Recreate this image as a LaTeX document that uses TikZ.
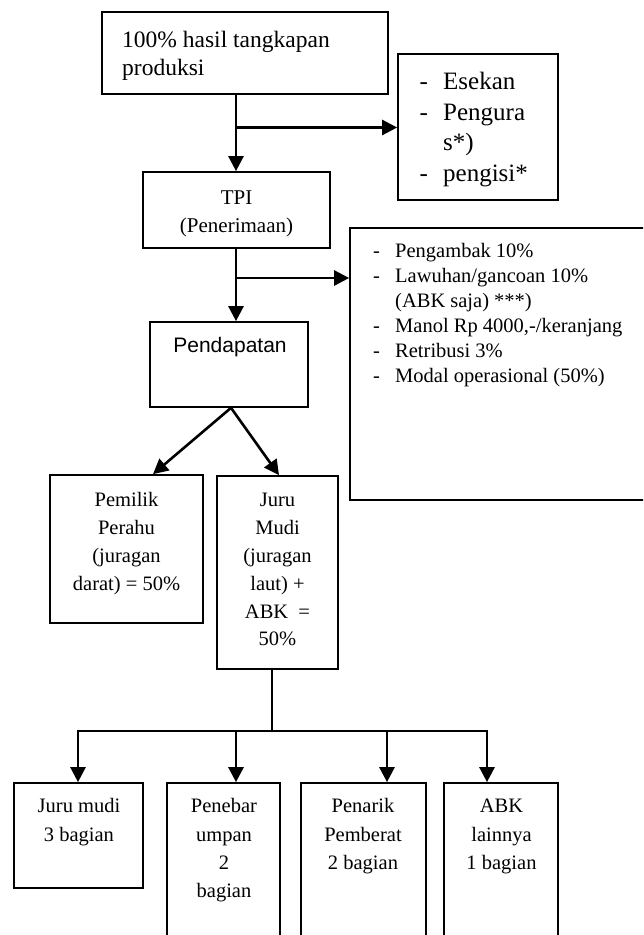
\documentclass[tikz,border=0pt]{standalone}
\usepackage{fontspec}
\setmainfont{Liberation Serif}
\newfontfamily\sansf{Liberation Sans}
\usetikzlibrary{arrows.meta}
\newcommand{\myfs}[2]{\fontsize{#1}{#2}\selectfont}
\tikzset{
  box/.style={draw, line width=1.7pt, inner sep=0pt},
  conn/.style={line width=2.6pt},
  arr/.style={conn, -{Triangle[length=15pt,width=15pt]}},
  txt/.style={inner sep=0pt, anchor=north, align=center},
  ltxt/.style={inner sep=0pt, anchor=north west, align=left}
}
\begin{document}
\begin{tikzpicture}[x=1pt,y=-1pt]
\useasboundingbox (0,0) rectangle (643,935);
\clip (0,0) rectangle (643,935);
% boxes
\node[box, minimum width=286pt, minimum height=82pt] (top) at (245,53) {};
\node[box, minimum width=160pt, minimum height=146pt] (esekan) at (478,127) {};
\node[box, minimum width=187pt, minimum height=76pt] (tpi) at (236.5,210) {};
\node[box, minimum width=300pt, minimum height=272pt] (potong) at (500,364) {};
\node[box, minimum width=158pt, minimum height=85pt] (pend) at (229,364.5) {};
\node[box, minimum width=153pt, minimum height=148pt] (pemilik) at (126.5,549) {};
\node[box, minimum width=121pt, minimum height=193pt] (jm) at (277.5,572.5) {};
\node[box, minimum width=129pt, minimum height=105pt] (b1) at (78.5,835.5) {};
\node[box, minimum width=113pt, minimum height=167pt] (b2) at (223.5,866.5) {};
\node[box, minimum width=125pt, minimum height=167pt] (b3) at (363.5,866.5) {};
\node[box, minimum width=114pt, minimum height=167pt] (b4) at (501,866.5) {};
% texts
\node[ltxt, font=\myfs{23.5}{28}] (toptxt) at (122,27.4) {\strut 100\% hasil tangkapan\\produksi};
\node[ltxt, font=\myfs{25}{30.5}] (esekantxt) at (419.5,68.2) {\strut\makebox[23.5pt][l]{-}Esekan\\
  \makebox[23.5pt][l]{-}Pengura\\ \hspace*{23.5pt}s*)\\ \makebox[23.5pt][l]{-}pengisi*};
\node[txt, font=\myfs{21}{28}] (tpitxt) at (236.5,184.4) {\strut TPI\\(Penerimaan)};
\node[ltxt, font=\myfs{20.5}{25}] (potongtxt) at (373,240.2) {\strut\makebox[22pt][l]{-}Pengambak 10\%\\
  \makebox[22pt][l]{-}Lawuhan/gancoan 10\%\\
  \hspace*{22pt}(ABK saja) ***)\\
  \makebox[22pt][l]{-}Manol Rp 4000,-/keranjang\\
  \makebox[22pt][l]{-}Retribusi 3\%\\
  \makebox[22pt][l]{-}Modal operasional (50\%)};
\node[inner sep=0pt, anchor=base, font=\sansf\myfs{21}{25}] (pendtxt) at (230,352.7) {Pendapatan};
\node[txt, font=\myfs{20.5}{27.8}] (pemiliktxt) at (126.5,487.2) {\strut Pemilik\\Perahu\\(juragan\\darat) = 50\%};
\node[txt, font=\myfs{20.5}{27.8}] (jmtxt) at (277.5,487.2) {\strut Juru\\Mudi\\(juragan\\laut) +\\ABK \ =\\50\%};
\node[txt, font=\myfs{20.5}{28.2}] (b1txt) at (79,793) {\strut Juru mudi\\3 bagian};
\node[txt, font=\myfs{20.5}{28.2}] (b2txt) at (224,793) {\strut Penebar\\umpan\\2\\bagian};
\node[txt, font=\myfs{20.5}{28.2}] (b3txt) at (363,793) {\strut Penarik\\Pemberat\\2 bagian};
\node[txt, font=\myfs{20.5}{28.2}] (b4txt) at (501.5,793) {\strut ABK\\lainnya\\1 bagian};
% connectors
\coordinate (j1) at (236,127.5);
\coordinate (j2) at (236,278);
\draw[arr] (j1 |- top.south) -- (j1 |- tpi.north);
\draw[arr] (j1) -- (j1 -| esekan.west);
\draw[arr] (j2 |- tpi.south) -- (j2 |- pend.north);
\draw[arr] (j2) -- (j2 -| potong.west);
\draw[arr] ([xshift=2pt]pend.south) -- ([xshift=26.5pt]pemilik.north);
\draw[arr] ([xshift=2pt]pend.south) -- ([xshift=1.5pt]jm.north);
\coordinate (j3) at (272,731);
\coordinate (c1) at (78,731);
\coordinate (c2) at (236,731);
\coordinate (c3) at (387,731);
\coordinate (c4) at (487,731);
\draw[conn] (j3 |- jm.south) -- (j3);
\draw[conn, line cap=rect] (c1) -- (c4);
\draw[arr] (c1) -- (c1 |- b1.north);
\draw[arr] (c2) -- (c2 |- b2.north);
\draw[arr] (c3) -- (c3 |- b3.north);
\draw[arr] (c4) -- (c4 |- b4.north);
\end{tikzpicture}
\end{document}
